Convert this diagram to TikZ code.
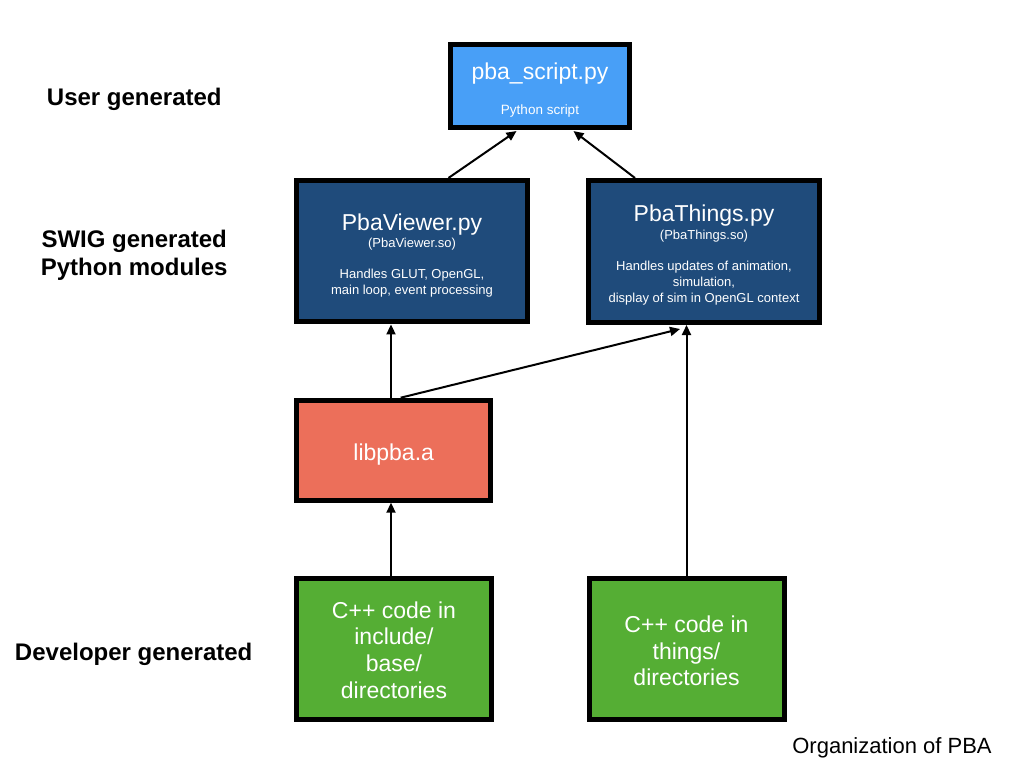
\documentclass[tikz,border=0pt]{standalone}
\usepackage{fontspec}
\setmainfont{Liberation Sans}
\usetikzlibrary{arrows.meta}
\lineskiplimit=-1000pt
\definecolor{lightblue}{RGB}{72,159,247}
\definecolor{darkblue}{RGB}{31,75,123}
\definecolor{salmon}{RGB}{236,111,90}
\definecolor{leafgreen}{RGB}{85,174,52}
\newcommand\boxtitle{\fontsize{23}{26.7}\selectfont}
\newcommand\lift[1]{\rule{0pt}{#1}}
\tikzset{
  box/.style={draw=black, line width=5pt, text=white, align=center, inner sep=0pt},
  arr/.style={line width=2pt, -{Triangle[length=10pt,width=9pt]}},
  lab/.style={font=\fontsize{24}{28.4}\selectfont\bfseries, align=center, inner sep=0pt, text=black},
  small/.style={font=\fontsize{13}{16}\selectfont},
  big/.style={font=\fontsize{23}{26.7}\selectfont}
}
\begin{document}
\begin{tikzpicture}[x=1pt,y=-1pt]
\fill[white] (0,0) rectangle (1024,768);
\path[use as bounding box] (0,0) rectangle (1024,768);

% boxes
\node[box, fill=lightblue, minimum width=178.4pt, minimum height=83.3pt, font=\fontsize{13.5}{16}\selectfont] (top) at (540,85.9)
  {{\boxtitle\lift{24.8pt}pba\_script.py}\\[18.5pt]Python script};
\node[box, fill=darkblue, minimum width=231pt, minimum height=141.5pt, small] (viewer) at (412,251.2)
  {{\boxtitle\lift{24.8pt}PbaViewer.py}\\[1.5pt](PbaViewer.so)\\[15pt]Handles GLUT, OpenGL,\\main loop, event processing};
\node[box, fill=darkblue, minimum width=231pt, minimum height=142pt, small] (things) at (704,251.5)
  {{\boxtitle\lift{23.8pt}PbaThings.py}\\[1.5pt](PbaThings.so)\\[15pt]Handles updates of animation,\\simulation,\\display of sim in OpenGL context};
\node[box, fill=salmon, minimum width=194.3pt, minimum height=100pt, big] (libpba) at (393.7,450.2) {\lift{25.8pt}libpba.a};
\node[box, fill=leafgreen, minimum width=195pt, minimum height=141pt, big] (incl) at (394,649)
  {\lift{18.8pt}C++ code in\\include/\\base/\\directories};
\node[box, fill=leafgreen, minimum width=195pt, minimum height=141pt, big] (thdir) at (686.5,649)
  {\lift{20.8pt}C++ code in\\things/\\directories};

% labels
\node[lab] (user) at (134.3,99.2) {User generated};
\node[lab] (swig) at (134.2,255) {SWIG generated\\Python modules};
\node[lab] (dev) at (133.7,654.2) {Developer generated};
\node[font=\fontsize{22}{26}\selectfont, inner sep=0pt] (org) at (892,748) {Organization of PBA};

% connectors
\draw[arr] ([xshift=36.5pt]viewer.north) -- ([xshift=-23.5pt,yshift=-1pt]top.south);
\draw[arr] ([xshift=-69pt]things.north) -- ([xshift=33.5pt,yshift=-1pt]top.south);
\draw[arr] ([xshift=-2.7pt]libpba.north) -- ([xshift=-2.7pt]libpba.north |- viewer.south);
\draw[arr] ([xshift=7pt]libpba.north) -- ([xshift=-24pt,yshift=-4pt]things.south);
\draw[arr] ([xshift=-3pt]incl.north) -- ([xshift=-3pt]incl.north |- libpba.south);
\draw[arr] (thdir.north) -- (thdir.north |- things.south);
\end{tikzpicture}
\end{document}
